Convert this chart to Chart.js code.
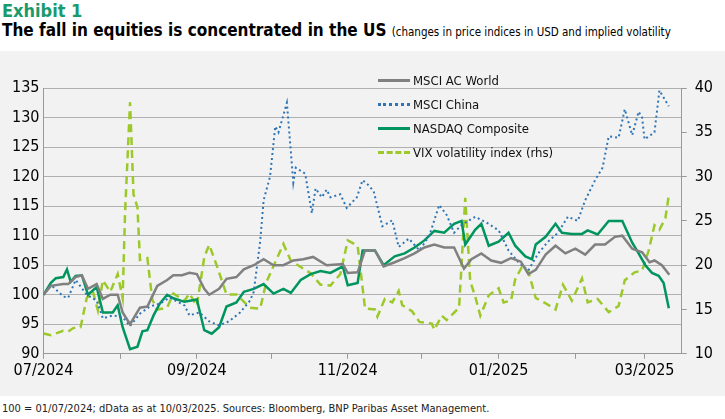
<!DOCTYPE html>
<html lang="en">
<head>
<meta charset="UTF-8" />
<title>Exhibit 1</title>
<script src="https://cdn.jsdelivr.net/npm/chart.js"></script>
<style>
  body { margin: 0; width: 725px; height: 419px; background: #fff; position: relative; overflow: hidden;
         font-family: "DejaVu Sans Condensed", "Liberation Sans Narrow", sans-serif; }
  #ex { position: absolute; left: 2px; top: 0px; color: #1a9a6c; font-weight: bold; font-size: 18px; }
  #title { position: absolute; left: 2px; top: 20px; font-weight: bold; font-size: 17px; color: #000; white-space: nowrap; }
  #title span { font-weight: normal; font-size: 11.5px; }
  #panel { position: absolute; left: 0; top: 51px; width: 725px; height: 345px; background: #f2f2f2; }
  #wrap { position: absolute; left: 0; top: 65px; width: 725px; height: 320px; }
  #legend { position: absolute; left: 378px; top: 68px; font-size: 13px; color: #111; }
  #legend div { height: 24px; display: flex; align-items: center; }
  #legend i { display: inline-block; width: 32px; margin-right: 3px; }
  #foot { position: absolute; left: 2px; top: 402px; font-size: 11px; color: #222; }
</style>
</head>
<body>
<div id="ex">Exhibit 1</div>
<div id="title">The fall in equities is concentrated in the US <span>(changes in price indices in USD and implied volatility</span></div>
<div id="panel"></div>
<div id="wrap"><canvas id="c"></canvas></div>
<div id="legend">
  <div><i style="border-top:3px solid #808080"></i>MSCI AC World</div>
  <div><i style="border-top:3px dotted #2e75b6"></i>MSCI China</div>
  <div><i style="border-top:3px solid #00945e"></i>NASDAQ Composite</div>
  <div><i style="border-top:3px dashed #9cc82a"></i>VIX volatility index (rhs)</div>
</div>
<div id="foot">100 = 01/07/2024; dData as at 10/03/2025. Sources: Bloomberg, BNP Paribas Asset Management.</div>
<script>
// x values are days since 1 July 2024
const monthTicks = [0, 31, 62, 92, 123, 153, 184, 215, 243];
const monthLabels = {0: "07/2024", 62: "09/2024", 123: "11/2024", 184: "01/2025", 243: "03/2025"};

const acwiDays = [0,3,8,10,13,15.5,18,21.5,24,27,30,32,35,39,42,46,50,52.5,56,59,62,65,67,71,74,78,81,85,89,93,97,101,105,109,114.5,121,123,127,130,134,137.5,142,146,150,154,158,162,166,170,173,177,181,185,189,193,196,199,203,207,211,215,219,223,227,231,234,238,242,245,247,250,253];
const acwi = [100,101.5,101.8,101.8,103,103.3,101,101.8,99.3,100,100,97,95,97.8,98,101.5,102.5,103.3,103.3,103.7,103.5,101,100,101,102.7,103,104.3,105,106,105,105,105.8,106,106.4,105,105.2,103.7,103.8,107.5,107.5,104.8,105.5,106.2,107,108,108.5,108,108,104.4,106,107,105.8,105.4,106.2,105.6,103.5,104.2,106.8,108.3,107,107.8,106.8,108.5,108.5,109.8,110,107.8,107.2,105.5,105.8,105,103.4];

const ndxDays = [0,3,5,8,9.5,11,13,15.5,18,21.5,24,28,30,32,35,38,40,42,44.5,47,50,52.5,57,62,65,68,71,74,78,81,85,89,93,97,100,104,108,112,116,121,123,127,129,134,137.5,142,146,150,154,158,162,166,169,170.5,174.5,177,180,184,188,190.7,194.8,197.5,199,203,207,209.6,213.6,217.7,220,224,228.5,234,238,240.6,243.3,246,248.7,250.7,252.8];
const ndx = [100,102,102.8,103,104.3,102.2,103.2,103.3,100,101.3,97,97,98.2,94.5,90.8,91.2,93.8,94,96.5,98.5,100,99.4,98.8,99.2,94,93.4,94.5,98,98.7,100.5,101,101.8,100.2,101,100.3,102.5,103.5,104,103.7,104.8,101.6,102,107.5,107.5,105,106.5,107,108,109.2,110.8,110.5,112,112.5,108.5,111,112,108.3,109,110.5,108.3,106.5,106,108.5,109.8,112,110.5,110.3,110.3,110.9,110.2,112.5,112.5,108.8,107,105,103.7,103.2,102,97.7];

const chinaDays = [0,3,8,10,13,17.5,21.5,24,28,32,35,39,43,47,51,57,59,63,67,71,75,79.5,83.5,85,87.6,89,91.6,93.7,95,98.4,101,102,105.8,108.5,110,112.5,114.5,116,120,122.6,126.7,129,131.5,133.5,137,141,143.6,147.7,152,156,160,163,166,169,174.5,180,184,188,192,196,200,204,208,212,216,219,223,226,228.5,232.5,235,238,240.6,242,243,247,249,252.8];
const china = [100,101.7,99.7,99.5,102.5,100,99,96,96.5,96.2,94.7,96.8,98,98.5,99.5,98.2,96.5,97,95.5,94.8,95.5,97,99,100.5,109,116,120,128.5,127.5,132.5,119,121.5,120.5,113.8,118,116.5,117.8,116.5,117,114.7,116.5,119.4,118.5,117.5,111.6,112.6,108.1,109.5,107.5,110,115.2,113.5,110.5,111.8,113.2,112,110.9,107.5,105.5,104.1,107,109,110.5,113.2,112.5,116,119.4,121.5,126.8,126.6,131.4,127,131,130,126.3,127.5,134.6,131.9];

const vixDays = [0,3,8,10,12,15,17.5,20,22,24,27,30,32,33,35,36.4,38,39,42,44,46,50,52.5,57,59,62,65,67,70,74,78,83.5,87.6,90,93,97,100,104,108,112,116,120,123,127,130,134,135,138,141,143.6,145,149,152,157,158,161,163,168,169,170.5,172.5,174.5,176.6,180,184,186,189,190.7,193.4,196,199,203,207,210,213.6,217.7,220,224,228.5,232.5,235,239,242,244.6,247,249,251.4,252.8];
const vix = [12.3,12.1,12.6,12.5,12.9,13,16.3,17,14.9,18.3,17,19,16.3,26,38.4,28,26.5,20.6,20.8,16.1,15,15.2,16.8,16,16.8,15.4,20.9,22.3,20,16.7,16.7,15.2,15.1,18,19.9,22.4,20.5,19.8,19.1,17.8,17.7,19,22.8,22.2,15.1,15,14.2,16.2,15.8,17.1,15.5,14.8,13.6,13.4,12.7,14.3,13.8,15.2,20,27.6,18.2,16.5,14.3,16.6,17.4,15.8,16,18.4,19.8,19.3,16.3,15.7,15,17.8,16,18.5,15.8,16.2,14.7,15.4,18.3,19.2,19.4,21.6,24.5,24,25.3,27.9];

const pts = (xs, ys) => xs.map((x, i) => ({ x, y: ys[i] }));
const FONT = "'DejaVu Sans Condensed', sans-serif";

new Chart(document.getElementById("c"), {
  type: "line",
  data: {
    datasets: [
      { data: pts(acwiDays, acwi), borderColor: "#808080", borderWidth: 2.5, yAxisID: "y" },
      { data: pts(chinaDays, china), borderColor: "#2e75b6", borderWidth: 2, borderDash: [2, 3], yAxisID: "y" },
      { data: pts(ndxDays, ndx), borderColor: "#00945e", borderWidth: 2.5, yAxisID: "y" },
      { data: pts(vixDays, vix), borderColor: "#9cc82a", borderWidth: 2.5, borderDash: [8, 5], yAxisID: "y1" }
    ]
  },
  options: {
    responsive: true,
    maintainAspectRatio: false,
    animation: false,
    elements: { point: { radius: 0 }, line: { tension: 0 } },
    layout: { padding: { top: 23, right: 4, left: 8, bottom: 3 } },
    plugins: { legend: { display: false }, tooltip: { enabled: false } },
    scales: {
      x: {
        type: "linear", min: 0, max: 258,
        afterBuildTicks: ax => { ax.ticks = monthTicks.map(v => ({ value: v })); },
        ticks: { autoSkip: false, maxRotation: 0, callback: v => monthLabels[v] || "",
                 color: "#000", font: { family: FONT, size: 16 }, padding: 2 },
        grid: { drawOnChartArea: false, color: "#999", tickLength: 5 },
        border: { color: "#999" }
      },
      y: {
        position: "left", min: 90, max: 135,
        ticks: { stepSize: 5, color: "#000", font: { family: FONT, size: 16 }, padding: 4 },
        grid: { color: "#b0b0b0", drawTicks: false },
        border: { color: "#999" }
      },
      y1: {
        position: "right", min: 10, max: 40,
        ticks: { stepSize: 5, color: "#000", font: { family: FONT, size: 16 }, padding: 8 },
        grid: { drawOnChartArea: false, color: "#999", tickLength: 5 },
        border: { color: "#999" }
      }
    }
  }
});
</script>
</body>
</html>
